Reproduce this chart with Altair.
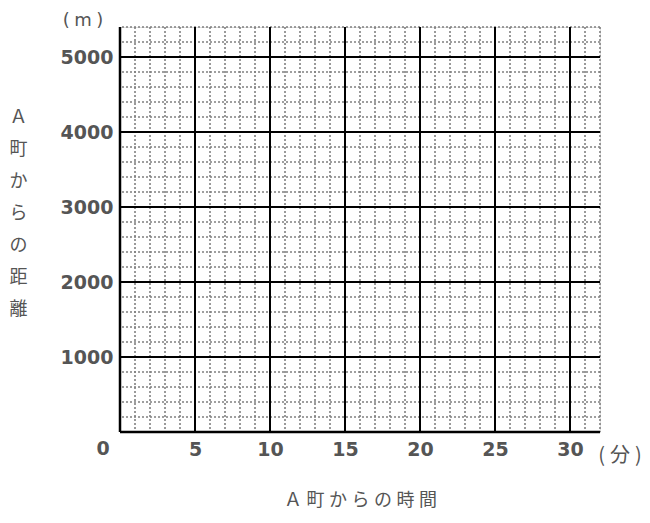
import altair as alt
import pandas as pd

minutes_minor = list(range(0, 33))
meters_minor = list(range(0, 5401, 200))
minutes_major = [5, 10, 15, 20, 25, 30]
meters_major = [1000, 2000, 3000, 4000, 5000]
x_max = 32
y_max = 5400

FONT = "Noto Sans CJK JP"
NUMFONT = "DejaVu Sans"
GRAY = "#555555"

xs = alt.Scale(domain=[0, x_max], nice=False, zero=True)
ys = alt.Scale(domain=[0, y_max], nice=False, zero=True)

x_axis = alt.Axis(values=minutes_major, grid=False, ticks=False, domain=False, format="d",
                  labelFont=NUMFONT, labelFontSize=19, labelFontWeight="bold",
                  labelColor=GRAY, labelPadding=8,
                  title="Ａ\u2005町\u2005か\u2005ら\u2005の\u2005時\u2005間",
                  titleFont=FONT, titleFontSize=18, titleFontWeight="normal",
                  titleColor=GRAY, titleBaseline="middle", titleY=68)
y_axis = alt.Axis(values=meters_major, grid=False, ticks=False, domain=False, format="d",
                  labelFont=NUMFONT, labelFontSize=19, labelFontWeight="bold",
                  labelColor=GRAY, labelPadding=7,
                  title=["Ａ", "町", "か", "ら", "の", "距", "離"],
                  titleFont=FONT, titleFontSize=18, titleFontWeight="normal",
                  titleColor=GRAY, titleAngle=0, titleAlign="center",
                  titleBaseline="middle", titleLineHeight=32,
                  titleX=-102, titleY=90)

X = lambda: alt.X("t:Q", scale=xs, axis=x_axis)
Y = lambda: alt.Y("d:Q", scale=ys, axis=y_axis)

df_vminor = pd.DataFrame({"t": minutes_minor})
df_hminor = pd.DataFrame({"d": meters_minor})
df_vmajor = pd.DataFrame({"t": minutes_major})
df_hmajor = pd.DataFrame({"d": meters_major})

vminor = alt.Chart(df_vminor).mark_rule(color="#808080", strokeWidth=1.6, strokeDash=[2, 2]).encode(x=X())
hminor = alt.Chart(df_hminor).mark_rule(color="#808080", strokeWidth=1.6, strokeDash=[2, 2]).encode(y=Y())
vmajor = alt.Chart(df_vmajor).mark_rule(color="black", strokeWidth=2).encode(x=X())
hmajor = alt.Chart(df_hmajor).mark_rule(color="black", strokeWidth=2).encode(y=Y())

axis_y = alt.Chart(pd.DataFrame({"t": [0]})).mark_rule(color="black", strokeWidth=2.5).encode(x=X())
axis_x = alt.Chart(pd.DataFrame({"d": [0]})).mark_rule(color="black", strokeWidth=2.5).encode(y=Y())

origin = alt.Chart(pd.DataFrame({"t": [0], "d": [0], "s": ["0"]})).mark_text(
    font=NUMFONT, fontSize=19, fontWeight="bold", color=GRAY, dx=-17, dy=17, baseline="middle"
).encode(x=X(), y=Y(), text="s:N")

unit_y = alt.Chart(pd.DataFrame({"s": ["(\u2005m\u2005)"]})).mark_text(
    font=NUMFONT, fontSize=18, color=GRAY, baseline="middle"
).encode(x=alt.value(-37), y=alt.value(-6), text="s:N")

unit_x = alt.Chart(pd.DataFrame({"s": ["(\u2005分\u2005)"]})).mark_text(
    font=FONT, fontSize=20, color=GRAY, baseline="middle"
).encode(x=alt.value(500), y=alt.value(429), text="s:N")

chart = alt.layer(vminor, hminor, vmajor, hmajor, axis_y, axis_x, origin, unit_y, unit_x).properties(
    width=480, height=405,
    autosize=alt.AutoSizeParams(type="none"),
    padding={"left": 112, "top": 19, "right": 42, "bottom": 83},
).configure_view(stroke=None).configure(background="white")

chart.save("out.html", embed_options={"renderer": "svg", "actions": False})
